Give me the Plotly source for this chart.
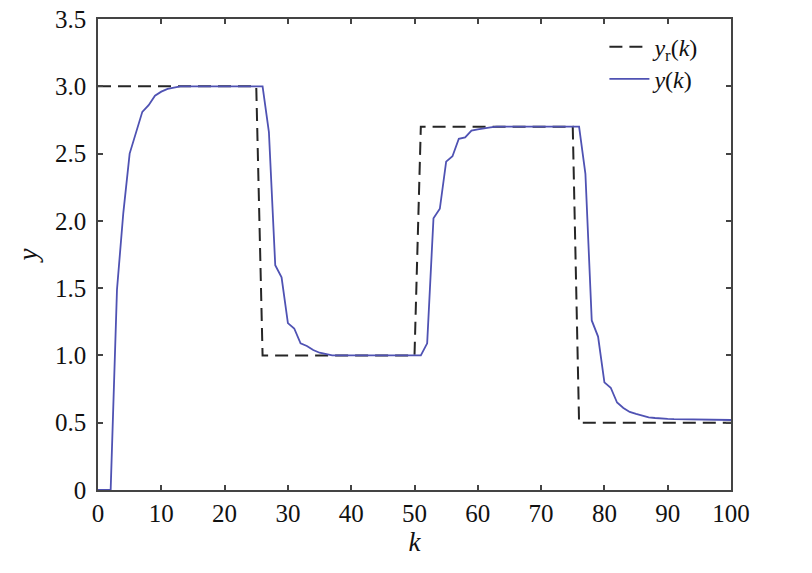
import plotly.graph_objects as go

k = list(range(0, 101))

# reference signal y_r(k)
yr = [3.0] * 26 + [1.0] * 25 + [2.7] * 25 + [0.5] * 25

# system output y(k)
y_out = [0.0, 0.0, 0.0, 1.49, 2.06, 2.50, 2.65, 2.81, 2.86, 2.93,
         2.96, 2.98, 2.99, 3.0, 3.0, 3.0, 3.0, 3.0, 3.0, 3.0,
         3.0, 3.0, 3.0, 3.0, 3.0, 3.0, 3.0, 2.66, 1.67, 1.58,
         1.24, 1.20, 1.09, 1.07, 1.04, 1.02, 1.01, 1.0, 1.0, 1.0,
         1.0, 1.0, 1.0, 1.0, 1.0, 1.0, 1.0, 1.0, 1.0, 1.0,
         1.0, 1.0, 1.09, 2.02, 2.09, 2.44, 2.48, 2.61, 2.62, 2.67,
         2.68, 2.69, 2.695, 2.7, 2.7, 2.7, 2.7, 2.7, 2.7, 2.7,
         2.7, 2.7, 2.7, 2.7, 2.7, 2.7, 2.7, 2.35, 1.26, 1.14,
         0.80, 0.76, 0.65, 0.61, 0.58, 0.565, 0.55, 0.54, 0.535, 0.53,
         0.528, 0.526, 0.525, 0.524, 0.523, 0.522, 0.521, 0.52, 0.52, 0.52,
         0.52]

x_ticks = [0, 10, 20, 30, 40, 50, 60, 70, 80, 90, 100]
y_ticks = [0, 0.5, 1.0, 1.5, 2.0, 2.5, 3.0, 3.5]
y_ticklabels = ["0", "0.5", "1.0", "1.5", "2.0", "2.5", "3.0", "3.5"]

font = "Liberation Serif"

fig = go.Figure()
fig.add_trace(go.Scatter(
    x=k, y=yr, mode="lines",
    name="<i>y</i><sub>r</sub>(<i>k</i>)",
    line=dict(color="#262626", width=2, dash="13px,7px"),
    legend="legend",
))
fig.add_trace(go.Scatter(
    x=k, y=y_out, mode="lines",
    name="<i>y</i>(<i>k</i>)",
    line=dict(color="#4f52b3", width=1.8),
    legend="legend2",
))

axis_common = dict(
    showgrid=False, zeroline=False, automargin=False,
    showline=True, linecolor="#444", linewidth=1.5, mirror="ticks",
    ticks="inside", ticklen=5, tickcolor="#444", tickwidth=1.5,
    ticklabeloverflow="allow",
    tickfont=dict(family=font, size=25, color="#111"),
)

legend_common = dict(
    xanchor="left", yanchor="middle", bgcolor="rgba(0,0,0,0)",
    itemwidth=40, font=dict(family=font, size=24, color="#111"),
)

fig.update_layout(
    width=812, height=573,
    margin=dict(l=98, r=81, t=19, b=83, autoexpand=False),
    paper_bgcolor="white", plot_bgcolor="white",
    font=dict(family=font, color="#111"),
    xaxis=dict(range=[0, 100], tickvals=x_ticks,
               title=dict(text="<i>k</i>", font=dict(family=font, size=27, color="#111"),
                          standoff=0),
               **axis_common),
    yaxis=dict(range=[0, 3.5], tickvals=y_ticks, ticktext=y_ticklabels,
               ticklabelstandoff=5,
               title=dict(text="<i>y</i>", font=dict(family=font, size=27, color="#111"),
                          standoff=10),
               **axis_common),
    legend=dict(x=0.80, y=0.94, **legend_common),
    legend2=dict(x=0.80, y=0.872, **legend_common),
    showlegend=True,
)

# drop the default page margin so the figure sits at the window corner
fig.write_html("out.html", config={"displayModeBar": False},
               post_script="document.body.style.margin='0';")
